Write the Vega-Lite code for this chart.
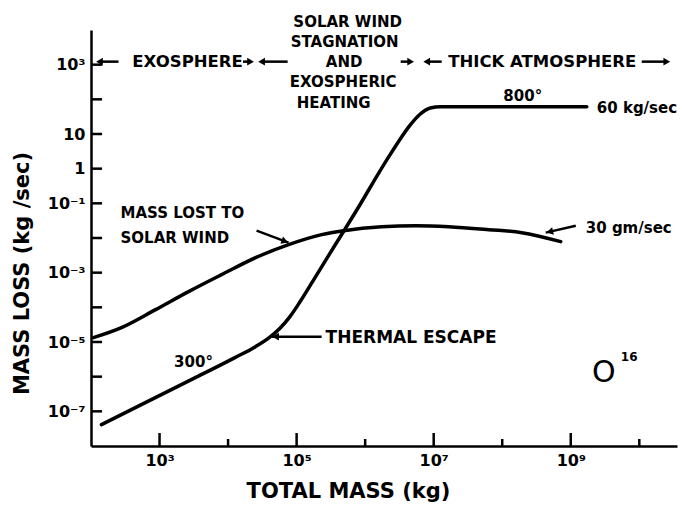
{
  "$schema": "https://vega.github.io/schema/vega-lite/v6.json",
  "width": 586,
  "height": 416,
  "autosize": "none",
  "padding": {"left": 91, "top": 30, "right": 5, "bottom": 62},
  "background": "white",
  "config": {
    "view": {"stroke": null},
    "font": "DejaVu Sans",
    "text": {"font": "DejaVu Sans", "fontWeight": "bold", "fontSize": 15, "color": "black", "baseline": "middle"}
  },
  "datasets": {
    "curves": [
      {"series": "thermal", "mass": 142.2, "loss": 4.13e-8},
      {"series": "thermal", "mass": 631, "loss": 1.82e-7},
      {"series": "thermal", "mass": 3162, "loss": 8.91e-7},
      {"series": "thermal", "mass": 12589, "loss": 3.55e-6},
      {"series": "thermal", "mass": 25119, "loss": 7.33e-6},
      {"series": "thermal", "mass": 39811, "loss": 1.334e-5},
      {"series": "thermal", "mass": 56234, "loss": 2.399e-5},
      {"series": "thermal", "mass": 79433, "loss": 5.31e-5},
      {"series": "thermal", "mass": 112202, "loss": 1.445e-4},
      {"series": "thermal", "mass": 199526, "loss": 9.12e-4},
      {"series": "thermal", "mass": 398107, "loss": 8.32e-3},
      {"series": "thermal", "mass": 794328, "loss": 0.0759},
      {"series": "thermal", "mass": 1584893, "loss": 0.759},
      {"series": "thermal", "mass": 2238721, "loss": 2.291},
      {"series": "thermal", "mass": 3162278, "loss": 6.61},
      {"series": "thermal", "mass": 4466836, "loss": 17.38},
      {"series": "thermal", "mass": 6309573, "loss": 37.15},
      {"series": "thermal", "mass": 8912509, "loss": 56.2},
      {"series": "thermal", "mass": 12589254, "loss": 61.5},
      {"series": "thermal", "mass": 1714000000, "loss": 61.5},
      {"series": "solar", "mass": 108.6, "loss": 1.337e-5},
      {"series": "solar", "mass": 278.6, "loss": 2.594e-5},
      {"series": "solar", "mass": 875, "loss": 8.57e-5},
      {"series": "solar", "mass": 2649, "loss": 2.838e-4},
      {"series": "solar", "mass": 8035, "loss": 8.77e-4},
      {"series": "solar", "mass": 25177, "loss": 2.71e-3},
      {"series": "solar", "mass": 76384, "loss": 6.43e-3},
      {"series": "solar", "mass": 231739, "loss": 1.25e-2},
      {"series": "solar", "mass": 485289, "loss": 1.629e-2},
      {"series": "solar", "mass": 1742000, "loss": 2.123e-2},
      {"series": "solar", "mass": 5458000, "loss": 2.27e-2},
      {"series": "solar", "mass": 16560000, "loss": 2.123e-2},
      {"series": "solar", "mass": 63530000, "loss": 1.742e-2},
      {"series": "solar", "mass": 192800000, "loss": 1.426e-2},
      {"series": "solar", "mass": 714500000, "loss": 7.85e-3}
    ],
    "xMajor": [{"v": 1e3}, {"v": 1e5}, {"v": 1e7}, {"v": 1e9}],
    "xMinor": [{"v": 1e4}, {"v": 1e6}, {"v": 1e8}, {"v": 1e10}],
    "yTicks": [{"v": 1e-7}, {"v": 1e-6}, {"v": 1e-5}, {"v": 1e-4}, {"v": 1e-3}, {"v": 1e-2}, {"v": 1e-1}, {"v": 1}, {"v": 10}, {"v": 100}, {"v": 1000}],
    "centerLabels": [
      {"label": "SOLAR WIND", "mass": 555900, "loss": 17378},
      {"label": "STAGNATION", "mass": 502300, "loss": 4603},
      {"label": "AND", "mass": 493000, "loss": 1222},
      {"label": "EXOSPHERIC", "mass": 477500, "loss": 323.6},
      {"label": "HEATING", "mass": 346700, "loss": 80.2},
      {"label": "800°", "mass": 199100000, "loss": 125},
      {"label": "300°", "mass": 3131, "loss": 2.71e-6}
    ],
    "wideCenterLabels": [
      {"label": "EXOSPHERE", "mass": 2564, "loss": 1222},
      {"label": "THICK ATMOSPHERE", "mass": 383700000, "loss": 1222}
    ],
    "leftLabels": [
      {"label": "MASS LOST TO", "mass": 269.8, "loss": 0.05383},
      {"label": "SOLAR WIND", "mass": 269.8, "loss": 0.01023},
      {"label": "60 kg/sec", "mass": 2399000000, "loss": 57.5},
      {"label": "30 gm/sec", "mass": 1656000000, "loss": 0.0199}
    ],
    "wideLeftLabels": [
      {"label": "THERMAL ESCAPE", "mass": 264850, "loss": 1.337e-5}
    ],
    "species": [{"label": "O", "mass": 3034000000, "loss": 1.306e-6}],
    "isotope": [{"label": "16", "mass": 5370000000, "loss": 3.785e-6}],
    "arrowLines": [
      {"id": "solar", "mass": 26062, "loss": 0.01629},
      {"id": "solar", "mass": 76384, "loss": 0.00734},
      {"id": "thermal", "mass": 231739, "loss": 1.429e-5},
      {"id": "thermal", "mass": 43152, "loss": 1.429e-5},
      {"id": "gm30", "mass": 1183000000, "loss": 0.0227},
      {"id": "gm30", "mass": 431500000, "loss": 0.01426},
      {"id": "t1", "mass": 133, "loss": 1222},
      {"id": "t1", "mass": 251.8, "loss": 1222},
      {"id": "t2", "mass": 16500, "loss": 1222},
      {"id": "t2", "mass": 21281, "loss": 1222},
      {"id": "t3", "mass": 30831, "loss": 1222},
      {"id": "t3", "mass": 73961, "loss": 1222},
      {"id": "t4", "mass": 3296000, "loss": 1222},
      {"id": "t4", "mass": 4613000, "loss": 1222},
      {"id": "t5", "mass": 7907000, "loss": 1222},
      {"id": "t5", "mass": 13090000, "loss": 1222},
      {"id": "t6", "mass": 10860000000, "loss": 1222},
      {"id": "t6", "mass": 25180000000, "loss": 1222}
    ],
    "headsLeft": [
      {"mass": 133, "loss": 1222},
      {"mass": 30831, "loss": 1222},
      {"mass": 7907000, "loss": 1222},
      {"mass": 49317, "loss": 1.429e-5}
    ],
    "headsRight": [
      {"mass": 21281, "loss": 1222},
      {"mass": 4613000, "loss": 1222},
      {"mass": 25180000000, "loss": 1222}
    ],
    "headSolar": [{"mass": 67450, "loss": 0.00805}],
    "headGm": [{"mass": 493000000, "loss": 0.01524}]
  },
  "layer": [
    {
      "data": {"name": "curves"},
      "mark": {"type": "line", "interpolate": "monotone", "strokeWidth": 3.5, "color": "black", "strokeCap": "round"},
      "encoding": {
        "x": {
          "field": "mass", "type": "quantitative",
          "scale": {"type": "log", "domain": [100, 35480000000], "nice": false},
          "axis": {
            "title": "TOTAL MASS (kg)",
            "values": [1e3, 1e5, 1e7, 1e9],
            "ticks": false, "grid": false,
            "domainColor": "black", "domainWidth": 2.5,
            "labelFont": "DejaVu Sans", "labelFontWeight": "bold", "labelFontSize": 16, "labelColor": "black",
            "labelPadding": 6,
            "labelExpr": "round(log(datum.value)/LN10) == 3 ? '10³' : round(log(datum.value)/LN10) == 5 ? '10⁵' : round(log(datum.value)/LN10) == 7 ? '10⁷' : '10⁹'",
            "titleFont": "DejaVu Sans", "titleFontWeight": "bold", "titleFontSize": 21, "titleColor": "black",
            "titleX": 257, "titleY": 45, "titleAlign": "center", "titleBaseline": "middle"
          }
        },
        "y": {
          "field": "loss", "type": "quantitative",
          "scale": {"type": "log", "domain": [1e-8, 1e4], "nice": false},
          "axis": {
            "title": "MASS LOSS (kg /sec)",
            "values": [1e-7, 1e-5, 1e-3, 1e-1, 1, 10, 1000],
            "ticks": false, "grid": false,
            "domainColor": "black", "domainWidth": 2.5,
            "labelFont": "DejaVu Sans", "labelFontWeight": "bold", "labelFontSize": 16, "labelColor": "black",
            "labelPadding": 6,
            "labelExpr": "round(log(datum.value)/LN10) == 3 ? '10³' : round(log(datum.value)/LN10) == 1 ? '10' : round(log(datum.value)/LN10) == 0 ? '1' : round(log(datum.value)/LN10) == -1 ? '10⁻¹' : round(log(datum.value)/LN10) == -3 ? '10⁻³' : round(log(datum.value)/LN10) == -5 ? '10⁻⁵' : '10⁻⁷'",
            "titleFont": "DejaVu Sans", "titleFontWeight": "bold", "titleFontSize": 21, "titleColor": "black",
            "titleX": -69, "titleY": 243, "titleAlign": "center", "titleBaseline": "middle"
          }
        },
        "detail": {"field": "series"}
      }
    },
    {
      "data": {"name": "xMajor"},
      "mark": {"type": "rule", "color": "black", "strokeWidth": 2.5},
      "encoding": {"x": {"field": "v", "type": "quantitative"}, "y": {"datum": 1e-8}, "y2": {"datum": 2.37e-8}}
    },
    {
      "data": {"name": "xMinor"},
      "mark": {"type": "rule", "color": "black", "strokeWidth": 2.5},
      "encoding": {"x": {"field": "v", "type": "quantitative"}, "y": {"datum": 1e-8}, "y2": {"datum": 1.59e-8}}
    },
    {
      "data": {"name": "yTicks"},
      "mark": {"type": "rule", "color": "black", "strokeWidth": 2.5},
      "encoding": {"y": {"field": "v", "type": "quantitative"}, "x": {"datum": 100}, "x2": {"datum": 145}}
    },
    {
      "data": {"name": "arrowLines"},
      "mark": {"type": "line", "color": "black", "strokeWidth": 2.5},
      "encoding": {"x": {"field": "mass", "type": "quantitative"}, "y": {"field": "loss", "type": "quantitative"}, "detail": {"field": "id"}}
    },
    {
      "data": {"name": "headsLeft"},
      "mark": {"type": "point", "shape": "triangle-left", "filled": true, "size": 60, "color": "black", "opacity": 1},
      "encoding": {"x": {"field": "mass", "type": "quantitative"}, "y": {"field": "loss", "type": "quantitative"}}
    },
    {
      "data": {"name": "headsRight"},
      "mark": {"type": "point", "shape": "triangle-right", "filled": true, "size": 60, "color": "black", "opacity": 1},
      "encoding": {"x": {"field": "mass", "type": "quantitative"}, "y": {"field": "loss", "type": "quantitative"}}
    },
    {
      "data": {"name": "headSolar"},
      "mark": {"type": "point", "shape": "triangle-right", "filled": true, "size": 60, "color": "black", "opacity": 1, "angle": 20},
      "encoding": {"x": {"field": "mass", "type": "quantitative"}, "y": {"field": "loss", "type": "quantitative"}}
    },
    {
      "data": {"name": "headGm"},
      "mark": {"type": "point", "shape": "triangle-left", "filled": true, "size": 60, "color": "black", "opacity": 1, "angle": -13},
      "encoding": {"x": {"field": "mass", "type": "quantitative"}, "y": {"field": "loss", "type": "quantitative"}}
    },
    {
      "data": {"name": "centerLabels"},
      "mark": {"type": "text", "align": "center"},
      "encoding": {"x": {"field": "mass", "type": "quantitative"}, "y": {"field": "loss", "type": "quantitative"}, "text": {"field": "label"}}
    },
    {
      "data": {"name": "wideCenterLabels"},
      "mark": {"type": "text", "align": "center", "fontSize": 16.5},
      "encoding": {"x": {"field": "mass", "type": "quantitative"}, "y": {"field": "loss", "type": "quantitative"}, "text": {"field": "label"}}
    },
    {
      "data": {"name": "leftLabels"},
      "mark": {"type": "text", "align": "left"},
      "encoding": {"x": {"field": "mass", "type": "quantitative"}, "y": {"field": "loss", "type": "quantitative"}, "text": {"field": "label"}}
    },
    {
      "data": {"name": "wideLeftLabels"},
      "mark": {"type": "text", "align": "left", "fontSize": 17},
      "encoding": {"x": {"field": "mass", "type": "quantitative"}, "y": {"field": "loss", "type": "quantitative"}, "text": {"field": "label"}}
    },
    {
      "data": {"name": "species"},
      "mark": {"type": "text", "align": "center", "fontSize": 30, "fontWeight": "normal"},
      "encoding": {"x": {"field": "mass", "type": "quantitative"}, "y": {"field": "loss", "type": "quantitative"}, "text": {"field": "label"}}
    },
    {
      "data": {"name": "isotope"},
      "mark": {"type": "text", "align": "left", "fontSize": 12},
      "encoding": {"x": {"field": "mass", "type": "quantitative"}, "y": {"field": "loss", "type": "quantitative"}, "text": {"field": "label"}}
    }
  ]
}
